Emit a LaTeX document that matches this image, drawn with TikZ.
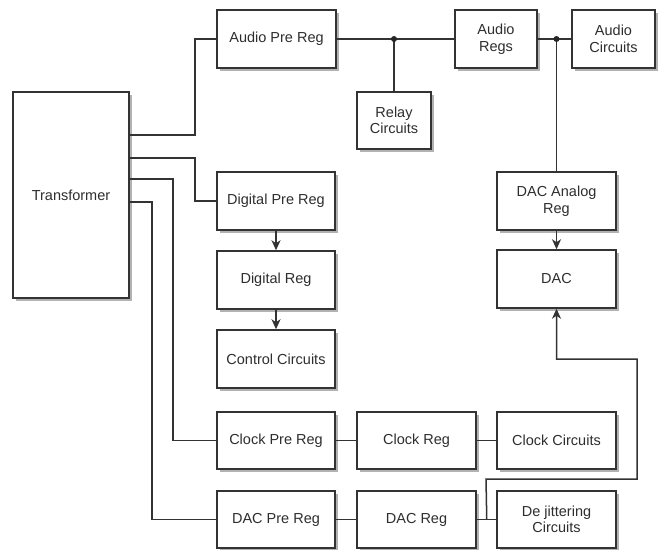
\documentclass[tikz,border=0pt]{standalone}
\usepackage{fontspec}
\setmainfont{Liberation Sans}
\usetikzlibrary{arrows.meta,shadows,calc}
\begin{document}
\begin{tikzpicture}[x=1pt,y=-1pt,
  wire/.style={draw=black!80, line width=1.5pt},
  arr/.style={wire,-{Stealth[length=10pt,width=9pt,inset=3pt]}},
  box/.style={draw=black!80, line width=1.5pt, fill=white, inner sep=0pt,
    align=center, text=black!82,
    font=\fontsize{14.5}{16.5}\selectfont,
    drop shadow={shadow xshift=2.5pt, shadow yshift=-2.5pt, fill=black, opacity=0.3}},
  dot/.style={circle, fill=black!85, inner sep=0pt, minimum size=6pt}]
\useasboundingbox (0,0) rectangle (660,549);
% nodes
\node[box, minimum width=116pt, minimum height=206pt] (tr) at (71,195) {Transformer};
\node[box, minimum width=119pt, minimum height=58pt] (apr) at (276.5,39) {Audio Pre Reg};
\node[box, minimum width=82pt, minimum height=58pt] (ar) at (496,39) {Audio\\Regs};
\node[box, minimum width=83pt, minimum height=58pt] (ac) at (613.5,39) {Audio\\Circuits};
\node[box, minimum width=74pt, minimum height=57pt] (rc) at (394,120.5) {Relay\\Circuits};
\node[box, minimum width=118pt, minimum height=58pt] (dpr) at (276,201) {Digital Pre Reg};
\node[box, minimum width=118pt, minimum height=58pt] (dr) at (276,280) {Digital Reg};
\node[box, minimum width=118pt, minimum height=58pt] (cc) at (276,359) {Control Circuits};
\node[box, minimum width=118pt, minimum height=57pt] (cpr) at (276,440.5) {Clock Pre Reg};
\node[box, minimum width=118pt, minimum height=57pt] (dpre) at (276,519.5) {DAC Pre Reg};
\node[box, minimum width=119pt, minimum height=57pt] (cr) at (416.5,440.5) {Clock Reg};
\node[box, minimum width=119pt, minimum height=57pt] (ccirc) at (556.5,440.5) {Clock Circuits};
\node[box, minimum width=119pt, minimum height=57pt] (dacr) at (416.5,519.5) {DAC Reg};
\node[box, minimum width=119pt, minimum height=57pt] (dj) at (556.5,519.5) {De jittering\\Circuits};
\node[box, minimum width=119pt, minimum height=58pt] (dar) at (556.5,201) {DAC Analog\\Reg};
\node[box, minimum width=119pt, minimum height=58pt] (dac) at (556.5,279) {DAC};
% transformer taps
\coordinate (t1) at (129,135);
\coordinate (t2) at (129,158);
\coordinate (t3) at (129,179);
\coordinate (t4) at (129,202);
\draw[wire] (t1) -- ++(66,0) |- (apr.west);
\draw[wire] (t2) -- ++(66,0) |- (dpr.west);
\draw[wire] (t3) -- ++(44,0) |- (cpr.west);
\draw[wire] (t4) -- ++(23,0) |- (dpre.west);
% audio chain
\coordinate (j1) at (rc.north |- apr.east);
\coordinate (j2) at (dar.north |- ar.east);
\draw[wire] (apr.east) -- (ar.west);
\draw[wire] (ar.east) -- (ac.west);
\draw[wire] (j1) -- (rc.north);
\draw[wire] (j2) -- (dar.north);
\node[dot] (d1) at (j1) {};
\node[dot] (d2) at (j2) {};
\draw[arr] (dar.south) -- (dac.north);
% digital chain
\draw[arr] (dpr.south) -- (dr.north);
\draw[arr] (dr.south) -- (cc.north);
% clock chain
\draw[wire] (cpr.east) -- (cr.west);
\draw[wire] (cr.east) -- (ccirc.west);
% dac chain
\draw[wire] (dpre.east) -- (dacr.west);
\draw[wire] (dacr.east) -- (dj.west);
\coordinate (k0) at ($(dacr.east)+(10,0)$);
\coordinate (k1) at (486,479);
\coordinate (k2) at (637,479);
\coordinate (k3) at (637,359);
\draw[arr] (k0) -- (k1) -- (k2) -- (k3) -| (dac.south);
\end{tikzpicture}
\end{document}
